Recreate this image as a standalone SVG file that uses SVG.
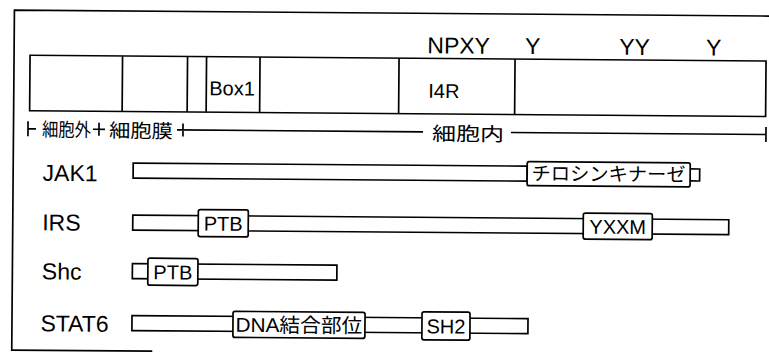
<svg xmlns="http://www.w3.org/2000/svg" width="769" height="353" viewBox="0 0 769 353">
<style>
  .ln{fill:none;stroke:#000;stroke-width:1.7}
  .bx{fill:#fff;stroke:#000;stroke-width:1.7}
  .dm{fill:#fff;stroke:#000;stroke-width:1.7}
  .t{font-family:"Liberation Sans","Noto Sans CJK JP",sans-serif;font-size:23px;fill:#000}
  .tj{font-family:"Noto Sans CJK JP","Liberation Sans",sans-serif;font-size:19px;fill:#000}
  .ts{font-family:"Liberation Sans","Noto Sans CJK JP",sans-serif;font-size:20px;fill:#000}
  .m{text-anchor:middle}
</style>
<rect width="769" height="353" fill="#fff"/>
<g transform="rotate(0.45)">
  <g id="frame">
    <path class="ln" d="M14.5 351 V10 H785"/>
    <path class="ln" d="M14.5 350 H155"/>
  </g>
  <g id="receptor">
    <rect class="bx" x="30.5" y="55" width="736" height="55.5"/>
    <path class="ln" d="M123 55 V110.5 M188 55 V110.5 M207 55 V110.5 M260.5 55 V110.5 M399.5 55 V110.5 M515.5 55 V110.5"/>
    <text class="ts" x="210" y="93.5" font-size="21">Box1</text>
    <text class="ts" x="429" y="94.5" font-size="21">I4R</text>
    <text class="t m" x="459" y="50">NPXY</text>
    <text class="t m" x="533" y="50">Y</text>
    <text class="t m" x="635" y="50">YY</text>
    <text class="t m" x="714" y="50">Y</text>
  </g>
  <g id="connectors">
    <path class="ln" d="M29 121 V136 M29 128.5 H37"/>
    <path class="ln" d="M94 128.5 H106 M100 122 V135"/>
    <path class="ln" d="M178 128.5 H424 M184 122 V135"/>
    <path class="ln" d="M512 128.5 H767 M767 121 V136"/>
  </g>
  <g id="regions">
    <text class="tj" x="43" y="136" textLength="49" lengthAdjust="spacingAndGlyphs">細胞外</text>
    <text class="tj" x="110" y="136.5" font-size="21" textLength="64" lengthAdjust="spacingAndGlyphs">細胞膜</text>
    <text class="tj" x="433" y="137" font-size="23" textLength="72" lengthAdjust="spacingAndGlyphs">細胞内</text>
  </g>
  <g id="jak1">
    <text class="t" x="44" y="180.5">JAK1</text>
    <rect class="bx" x="134.5" y="162" width="394" height="15"/>
    <rect class="bx" x="691" y="163.5" width="10" height="12"/>
    <rect class="dm" x="528.5" y="157.5" width="163" height="24" rx="2"/>
    <text class="tj" x="533" y="176" textLength="154" lengthAdjust="spacingAndGlyphs">チロシンキナーゼ</text>
  </g>
  <g id="irs">
    <text class="t" x="44" y="230">IRS</text>
    <rect class="bx" x="134.5" y="214" width="596" height="15"/>
    <rect class="dm" x="200" y="208" width="50" height="27" rx="2"/>
    <text class="ts m" x="225" y="229">PTB</text>
    <rect class="dm" x="585" y="208.5" width="69" height="26" rx="2"/>
    <text class="ts m" x="619.5" y="229">YXXM</text>
  </g>
  <g id="shc">
    <text class="t" x="44" y="279">Shc</text>
    <rect class="bx" x="134.5" y="262.5" width="204.5" height="15"/>
    <rect class="dm" x="150" y="257" width="50" height="27" rx="2"/>
    <text class="ts m" x="175" y="278">PTB</text>
  </g>
  <g id="stat6">
    <text class="t" x="43" y="331">STAT6</text>
    <rect class="bx" x="134.5" y="314.5" width="396" height="15"/>
    <rect class="dm" x="235.5" y="309.5" width="132" height="26" rx="2"/>
    <text class="ts" x="238" y="330" textLength="127" lengthAdjust="spacingAndGlyphs">DNA結合部位</text>
    <rect class="dm" x="424.5" y="308.5" width="48" height="28" rx="2"/>
    <text class="ts m" x="448.5" y="330">SH2</text>
  </g>
</g>
</svg>
